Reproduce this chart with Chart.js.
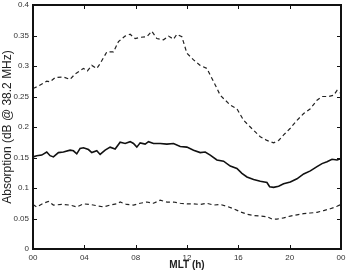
<!DOCTYPE html>
<html>
<head>
<meta charset="utf-8">
<script src="https://cdn.jsdelivr.net/npm/chart.js@4/dist/chart.umd.min.js"></script>
<style>
  html, body { margin: 0; padding: 0; background: #fff; }
  #wrap { width: 347px; height: 271px; }
</style>
</head>
<body>
<div id="wrap"><canvas id="absChart" width="347" height="271"></canvas></div>
<script>
// upper dashed curve
const upperHours = [0, 0.42, 1.07, 1.33, 1.72, 2.37, 2.89, 3.28, 3.93, 4.24, 4.58, 4.97, 5.23, 5.75, 6.27, 6.66, 7.18, 7.57, 7.96, 8.35, 8.87, 9.26, 9.65, 10.17, 10.56, 10.95, 11.21, 11.60, 11.99, 12.51, 13.03, 13.55, 13.81, 14.20, 14.59, 14.98, 15.37, 15.89, 16.41, 16.93, 17.32, 17.71, 18.23, 18.75, 19.14, 19.53, 20.05, 20.57, 21.09, 21.61, 22.13, 22.52, 23.04, 23.43, 23.69, 24];
const upperValues = [0.263, 0.267, 0.275, 0.274, 0.281, 0.282, 0.278, 0.287, 0.296, 0.292, 0.301, 0.296, 0.304, 0.323, 0.323, 0.340, 0.349, 0.352, 0.345, 0.347, 0.348, 0.357, 0.345, 0.343, 0.349, 0.344, 0.352, 0.348, 0.321, 0.310, 0.301, 0.296, 0.285, 0.269, 0.252, 0.244, 0.236, 0.230, 0.211, 0.200, 0.192, 0.184, 0.178, 0.174, 0.178, 0.187, 0.198, 0.211, 0.222, 0.230, 0.244, 0.250, 0.250, 0.252, 0.260, 0.255];

// median (solid)
const medianHours = [0, 0.29, 0.68, 1.07, 1.33, 1.59, 1.98, 2.37, 2.89, 3.15, 3.41, 3.67, 3.93, 4.32, 4.58, 4.97, 5.23, 5.62, 6.01, 6.40, 6.79, 7.18, 7.57, 7.83, 8.09, 8.35, 8.74, 9.00, 9.39, 9.91, 10.43, 10.95, 11.47, 11.99, 12.51, 13.03, 13.42, 13.81, 14.33, 14.85, 15.37, 15.89, 16.28, 16.67, 17.19, 17.71, 18.23, 18.44, 18.75, 19.14, 19.53, 20.05, 20.57, 21.09, 21.61, 22.13, 22.52, 22.91, 23.30, 23.69, 24];
const medianValues = [0.151, 0.153, 0.154, 0.159, 0.153, 0.151, 0.158, 0.159, 0.162, 0.161, 0.156, 0.165, 0.166, 0.163, 0.158, 0.161, 0.155, 0.162, 0.167, 0.164, 0.175, 0.173, 0.176, 0.173, 0.167, 0.174, 0.172, 0.176, 0.173, 0.173, 0.172, 0.173, 0.168, 0.167, 0.162, 0.158, 0.159, 0.154, 0.146, 0.144, 0.136, 0.132, 0.124, 0.118, 0.114, 0.111, 0.109, 0.102, 0.101, 0.103, 0.107, 0.110, 0.115, 0.123, 0.128, 0.135, 0.140, 0.143, 0.147, 0.146, 0.148];

// lower dashed curve
const lowerHours = [0, 0.29, 0.81, 1.20, 1.59, 2.24, 2.89, 3.41, 3.93, 4.45, 4.97, 5.49, 6.01, 6.53, 6.79, 7.31, 7.83, 8.35, 8.87, 9.39, 9.91, 10.43, 10.95, 11.47, 11.99, 12.51, 13.03, 13.55, 14.07, 14.59, 15.11, 15.63, 16.15, 16.67, 17.19, 17.71, 18.23, 18.62, 19.01, 19.53, 20.05, 20.57, 21.09, 21.61, 22.13, 22.65, 23.17, 23.69, 24];
const lowerValues = [0.073, 0.069, 0.075, 0.078, 0.072, 0.073, 0.072, 0.069, 0.074, 0.073, 0.071, 0.069, 0.072, 0.074, 0.077, 0.073, 0.072, 0.075, 0.077, 0.075, 0.080, 0.077, 0.077, 0.075, 0.074, 0.074, 0.073, 0.075, 0.072, 0.073, 0.070, 0.066, 0.061, 0.057, 0.055, 0.054, 0.053, 0.049, 0.049, 0.051, 0.054, 0.056, 0.058, 0.059, 0.060, 0.063, 0.066, 0.070, 0.073];

const xTickLabels = ["00", "04", "08", "12", "16", "20", "00"];

function toPoints(hours, values) {
    return hours.map((h, i) => ({ x: h, y: values[i] }));
}

// box + inward ticks, MATLAB style
const boxTicks = {
    id: "boxTicks",
    afterDraw(chart) {
        const { ctx, chartArea: a, scales } = chart;
        ctx.save();
        ctx.strokeStyle = "#111";
        ctx.lineWidth = 1;
        const len = 4;
        scales.x.ticks.forEach(t => {
            const px = Math.round(scales.x.getPixelForValue(t.value)) + 0.5;
            ctx.beginPath();
            ctx.moveTo(px, a.bottom); ctx.lineTo(px, a.bottom - len);
            ctx.moveTo(px, a.top); ctx.lineTo(px, a.top + len);
            ctx.stroke();
        });
        scales.y.ticks.forEach(t => {
            const py = Math.round(scales.y.getPixelForValue(t.value)) + 0.5;
            ctx.beginPath();
            ctx.moveTo(a.left, py); ctx.lineTo(a.left + len, py);
            ctx.moveTo(a.right, py); ctx.lineTo(a.right - len, py);
            ctx.stroke();
        });
        ctx.lineWidth = 2;
        ctx.strokeRect(a.left, a.top, a.right - a.left, a.bottom - a.top);
        ctx.restore();
    }
};

const ctx = document.getElementById("absChart").getContext("2d");
new Chart(ctx, {
    type: "line",
    data: {
        datasets: [
            {
                data: toPoints(upperHours, upperValues),
                borderColor: "#222",
                borderWidth: 1.2,
                borderDash: [4, 3],
                pointRadius: 0,
                tension: 0
            },
            {
                data: toPoints(medianHours, medianValues),
                borderColor: "#111",
                borderWidth: 1.6,
                pointRadius: 0,
                tension: 0
            },
            {
                data: toPoints(lowerHours, lowerValues),
                borderColor: "#222",
                borderWidth: 1.2,
                borderDash: [4, 3],
                pointRadius: 0,
                tension: 0
            }
        ]
    },
    options: {
        responsive: false,
        animation: false,
        layout: { padding: { top: 5, right: 6, left: 0, bottom: 0 } },
        plugins: {
            legend: { display: false },
            tooltip: { enabled: false }
        },
        scales: {
            x: {
                type: "linear",
                min: 0,
                max: 24,
                afterBuildTicks: s => { s.ticks = [0, 4, 8, 12, 16, 20, 24].map(v => ({ value: v })); },
                afterFit: s => { s.height = 22; s.paddingLeft = 0; s.paddingRight = 0; },
                grid: { display: false, drawTicks: false },
                border: { display: false },
                ticks: {
                    padding: 4,
                    color: "#333",
                    font: { family: "Liberation Sans", size: 8 },
                    callback: (v, i) => xTickLabels[i]
                },
                title: {
                    display: true,
                    text: "MLT (h)",
                    color: "#222",
                    padding: { top: 1, bottom: 0 },
                    font: { family: "Liberation Sans", size: 10, weight: "bold" }
                }
            },
            y: {
                min: 0,
                max: 0.4,
                afterBuildTicks: s => { s.ticks = [0, 0.05, 0.1, 0.15, 0.2, 0.25, 0.3, 0.35, 0.4].map(v => ({ value: v })); },
                afterFit: s => { s.width = 33; s.paddingTop = 0; s.paddingBottom = 0; },
                grid: { display: false, drawTicks: false },
                border: { display: false },
                ticks: {
                    padding: 4,
                    color: "#333",
                    font: { family: "Liberation Sans", size: 8 },
                    callback: v => String(Math.round(v * 100) / 100)
                },
                title: {
                    display: true,
                    text: "Absorption (dB @ 38.2 MHz)",
                    color: "#222",
                    padding: { top: 0, bottom: 0 },
                    font: { family: "Liberation Sans", size: 12 }
                }
            }
        }
    },
    plugins: [boxTicks]
});
</script>
</body>
</html>
